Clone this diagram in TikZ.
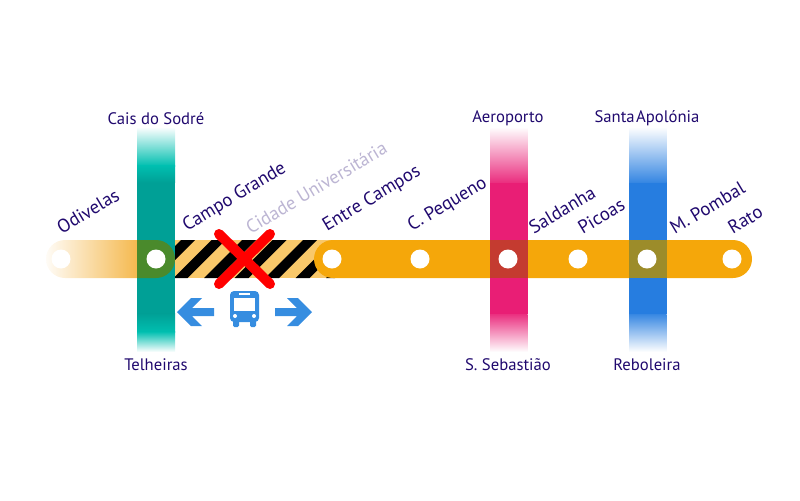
\documentclass[tikz,border=0pt]{standalone}
\usepackage{fontspec}
\setmainfont{PT Sans}
\usepackage{tikz}
\definecolor{lnorange}{HTML}{F5A70A}
\definecolor{lnfade}{HTML}{F5B94F}
\definecolor{lnteal}{HTML}{00A096}
\definecolor{lnbright}{HTML}{00BFB0}
\definecolor{lnpink}{HTML}{E91E75}
\definecolor{lnblue}{HTML}{267DE0}
\definecolor{lnbus}{HTML}{368DE0}
\definecolor{lnink}{HTML}{20096E}
\definecolor{lnhatch}{HTML}{F9C86A}
\definecolor{lngreen}{HTML}{4A8A2C}
\definecolor{lnbrick}{HTML}{C43B30}
\definecolor{lnolive}{HTML}{9C8C2A}
\begin{document}
\begin{tikzpicture}[x=0.75pt,y=-0.75pt,
  stn/.style={circle, fill=white, minimum size=14.25pt, inner sep=0pt},
  lbl/.style={text=lnink, font=\fontsize{12.5pt}{13pt}\selectfont, inner sep=0pt},
  slab/.style={lbl, font=\fontsize{14pt}{15pt}\selectfont, rotate=31, anchor=south west},
  xbar/.style={line width=7.5pt, red, line cap=round}]
\useasboundingbox (0,0) rectangle (800,500);

% ---------------- Left stub, fading out ----------------
\begin{scope}
\clip[rounded corners=14.25pt] (46,240) rectangle (200,278);
\shade[left color=lnfade!5, right color=lnfade] (46,240) rectangle (137,278);
\end{scope}

% ---------------- Closed section ----------------
\begin{scope}
\clip (175,240) rectangle (335,278);
\fill[lnhatch] (175,240) rectangle (335,278);
\foreach \s in {0,...,6}{
  \fill[black] ({143+\s*30.5},278) -- ({157+\s*30.5},278) -- ({195+\s*30.5},240) -- ({181+\s*30.5},240) -- cycle;}
\end{scope}

% ---------------- Main orange run ----------------
\fill[lnorange, rounded corners=14.25pt] (314,240) rectangle (752,278);

% ---------------- Cross lines ----------------
\fill[lnteal] (137,182) rectangle (175,314);
\shade[top color=white, bottom color=lnbright] (137,127) rectangle (175,166);
\shade[top color=lnbright, bottom color=lnteal] (137,165.5) rectangle (175,182.5);
\shade[top color=lnteal, bottom color=lnbright] (137,313.5) rectangle (175,332);
\shade[top color=lnbright, bottom color=white] (137,331.5) rectangle (175,352);
\foreach \x/\c in {490/lnpink, 629/lnblue}{
  \fill[\c] (\x,182) rectangle ({\x+37.5},314);
  \shade[top color=white, bottom color=\c!92] (\x,127) rectangle ({\x+37.5},182);
  \shade[top color=\c!92, bottom color=white] (\x,314) rectangle ({\x+37.5},352);
}
% overlaps
\begin{scope}
\clip (137,240) rectangle (175,278);
\fill[lngreen, rounded corners=14.25pt] (100,240) rectangle (175,278);
\end{scope}
\fill[lnbrick] (490,240) rectangle (527.5,278);
\fill[lnolive] (629,240) rectangle (666.5,278);

% ---------------- Stations ----------------
\node[stn] (odivelas) at (61,259) {};
\node[stn] (caisdosodre) at (156,259) {};
\node[stn] (entrecampos) at (332,259) {};
\node[stn] (cpequeno) at (420,259) {};
\node[stn] (aeroporto) at (508,259) {};
\node[stn] (picoas) at (578,259) {};
\node[stn] (pombal) at (647,259) {};
\node[stn] (rato) at (732,259) {};

% ---------------- Labels ----------------
\node[slab] (lodivelas) at (62,235) {Odivelas};
\node[slab] (lcampo) at (189,235) {Campo Grande};
\node[slab, text=lnink!30] (lcidade) at (251,235) {Cidade Universitária};
\node[slab] (lentre) at (329,235) {Entre Campos};
\node[slab] (lpequeno) at (414,235) {C. Pequeno};
\node[slab] (lsaldanha) at (534,235) {Saldanha};
\node[slab] (lpicoas) at (583,235) {Picoas};
\node[slab] (lpombal) at (675,235) {M. Pombal};
\node[slab] (lrato) at (733,235) {Rato};
\node[lbl] (lcais) at (156,118.5) {Cais do Sodré};
\node[lbl] (laero) at (508,118.5) {Aeroporto};
\node[lbl] (lsanta) at (647,118.5) {Santa\kern1pt Apolónia};
\node[lbl] (ltelheiras) at (156,365) {Telheiras};
\node[lbl] (lsebast) at (508,365) {S. Sebastião};
\node[lbl] (lreboleira) at (647,365) {Reboleira};

% ---------------- Closure mark and bus ----------------
\draw[xbar] (219,234) -- (270,284);
\draw[xbar] (270,234) -- (219,284);
\fill[lnbus] (177,312) -- (191,298) -- (202,298) -- (192,308) -- (214,308) -- (214,316) -- (192,316) -- (202,326) -- (191,326) -- cycle;
\fill[lnbus] (312,312) -- (298,298) -- (287,298) -- (297,308) -- (275,308) -- (275,316) -- (297,316) -- (287,326) -- (298,326) -- cycle;
\fill[lnbus, rounded corners=3pt] (230,291) rectangle (259,322);
\fill[lnbus, rounded corners=1pt] (233,318) rectangle (239,327);
\fill[lnbus, rounded corners=1pt] (250,318) rectangle (256,327);
\fill[white] (234,298) rectangle (255,311);
\fill[white] (239,293) rectangle (250,295);
\fill[white] (235,316) circle[radius=2];
\fill[white] (254,316) circle[radius=2];
\end{tikzpicture}
\end{document}
